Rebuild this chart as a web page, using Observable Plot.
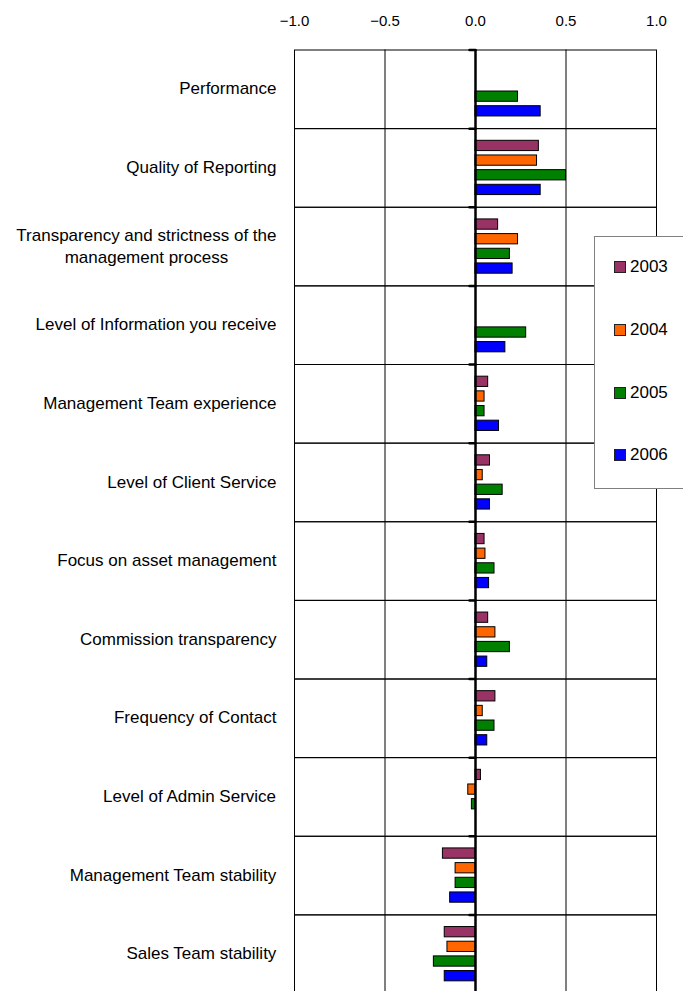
<!DOCTYPE html>
<html>
<head>
<meta charset="utf-8">
<script src="https://cdn.jsdelivr.net/npm/d3@7"></script>
<script src="https://cdn.jsdelivr.net/npm/@observablehq/plot@0.6"></script>
<style>
  html, body { margin: 0; padding: 0; background: #fff; overflow: hidden; }
  #wrap { position: relative; width: 683px; height: 991px; overflow: hidden; font-family: "Liberation Sans", Arial, sans-serif; }
  #legend { position: absolute; left: 594px; top: 236px; width: 120px; height: 253px; border: 1px solid #808080; background: #fff; box-sizing: border-box; }
  .item { position: absolute; left: 19px; height: 20px; display: flex; align-items: center; font-size: 17px; color: #000; }
  .sw { width: 12px; height: 12px; box-sizing: border-box; border: 1px solid #222; margin-right: 4px; }
</style>
</head>
<body>
<div id="wrap"><div id="chart"></div><div id="legend"></div></div>
<script>
const categories = [
  "Performance",
  "Quality of Reporting",
  "Transparency and strictness of the\nmanagement process",
  "Level of Information you receive",
  "Management Team experience",
  "Level of Client Service",
  "Focus on asset management",
  "Commission transparency",
  "Frequency of Contact",
  "Level of Admin Service",
  "Management Team stability",
  "Sales Team stability"
];
const years = ["2003", "2004", "2005", "2006"];
const colors = ["#993366", "#FF6600", "#008000", "#0000FF"];
const v2003 = [null, 0.35, 0.125, null, 0.07, 0.08, 0.05, 0.07, 0.11, 0.03, -0.18, -0.17];
const v2004 = [null, 0.34, 0.235, null, 0.05, 0.04, 0.055, 0.11, 0.04, -0.04, -0.11, -0.155];
const v2005 = [0.235, 0.5, 0.19, 0.28, 0.05, 0.15, 0.105, 0.19, 0.105, -0.02, -0.11, -0.23];
const v2006 = [0.36, 0.36, 0.205, 0.165, 0.13, 0.08, 0.075, 0.065, 0.065, null, -0.14, -0.17];
const xTicks = [-1.0, -0.5, 0.0, 0.5, 1.0];
const gridX = [-0.5, 0.5];

const series = [v2003, v2004, v2005, v2006];
const data = [];
series.forEach((vals, s) => vals.forEach((v, i) => {
  if (v != null) data.push({category: categories[i], year: years[s], value: v});
}));

const labelFont = 17;
const ctx = document.createElement("canvas").getContext("2d");
ctx.font = `${labelFont}px "Liberation Sans", Arial, sans-serif`;
const gap = 18;
const labelMarks = categories.map(c => {
  const w = Math.max(...c.split("\n").map(l => ctx.measureText(l).width));
  return Plot.text([c], {
    fy: d => d, text: d => d, frameAnchor: "left", textAnchor: "middle",
    dx: -(gap + w / 2), dy: -2, fontSize: labelFont, lineHeight: 1.3, fill: "#000"
  });
});

const lineShape = {draw(context, l) { context.moveTo(0, 0); context.lineTo(0, -l); }};

const chart = Plot.plot({
  width: 683,
  height: 993,
  marginLeft: 294,
  marginRight: 27,
  marginTop: 49.5,
  marginBottom: 0,
  style: {fontFamily: '"Liberation Sans", Arial, sans-serif', fontSize: "15px", color: "#000", background: "transparent"},
  x: {domain: [-1, 1], axis: null},
  y: {domain: years, paddingInner: 0.3, paddingOuter: 0.83, round: false, axis: null},
  fy: {domain: categories, padding: 0, round: false, axis: null},
  color: {domain: years, range: colors},
  marks: [
    Plot.frame({stroke: "#000", strokeWidth: 1}),
    Plot.ruleX(gridX, {stroke: "#000", strokeWidth: 1}),
    Plot.barX(data, {x: "value", y: "year", fy: "category", fill: "year", stroke: "#000", strokeWidth: 1}),
    Plot.ruleX([0], {stroke: "#000", strokeWidth: 2.5}),
    Plot.vector([0], {x: d => d, frameAnchor: "top", length: 6, rotate: -90, anchor: "start", shape: lineShape, stroke: "#000", strokeWidth: 2.5}),
    Plot.axisX(xTicks, {anchor: "top", tickSize: 0, tickPadding: 24, tickFormat: d3.format(".1f"), fontSize: 15, fill: "#000", label: null}),
    ...labelMarks
  ]
});
document.getElementById("chart").appendChild(chart);

const legend = document.getElementById("legend");
years.forEach((y, i) => {
  const it = document.createElement("div");
  it.className = "item";
  it.style.top = (20.3 + i * 62.7) + "px";
  it.innerHTML = `<span class="sw" style="background:${colors[i]}"></span><span>${y}</span>`;
  legend.appendChild(it);
});
</script>
</body>
</html>
